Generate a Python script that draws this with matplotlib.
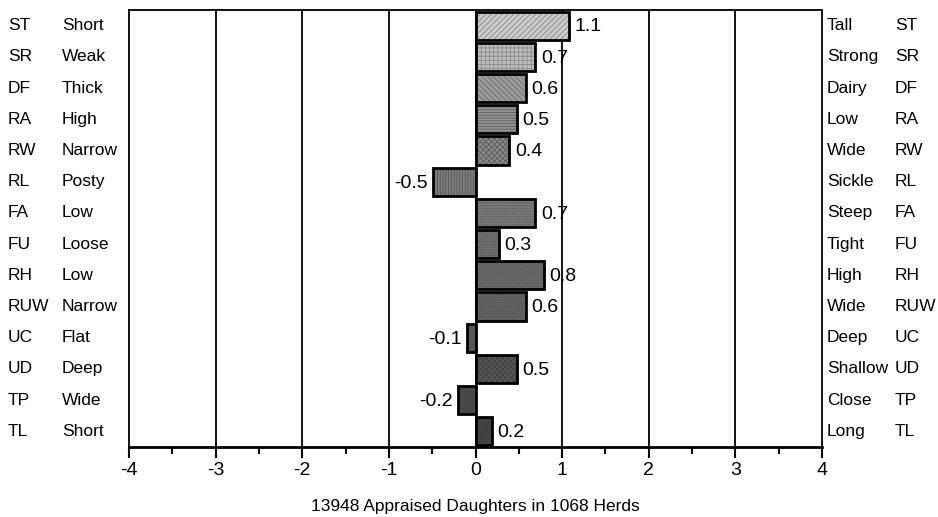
import matplotlib.pyplot as plt
from matplotlib.transforms import blended_transform_factory

# Trait codes, the two extremes and the bar values
codes = ["ST", "SR", "DF", "RA", "RW", "RL", "FA", "FU", "RH", "RUW", "UC", "UD", "TP", "TL"]
low_side = ["Short", "Weak", "Thick", "High", "Narrow", "Posty", "Low", "Loose", "Low",
            "Narrow", "Flat", "Deep", "Wide", "Short"]
high_side = ["Tall", "Strong", "Dairy", "Low", "Wide", "Sickle", "Steep", "Tight", "High",
             "Wide", "Deep", "Shallow", "Close", "Long"]
values = [1.08, 0.69, 0.58, 0.48, 0.39, -0.49, 0.69, 0.27, 0.79, 0.58, -0.10, 0.48, -0.20, 0.19]

fills = ["#cbcbcb", "#bcbcbc", "#9c9c9c", "#929292", "#8a8a8a", "#7e7e7e", "#787878",
         "#707070", "#686868", "#626262", "#5c5c5c", "#565656", "#4c4c4c", "#464646"]
hatch_cols = ["#8a8a8a", "#8c8c8c", "#6a6a6a", "#5e5e5e", "#5c5c5c", "#545454", "#5a5a5a",
              "#545454", "#555555", "#505050", "#4a4a4a", "#404040", "#3a3a3a", "#333333"]
hatches = ["//////", "++++", "\\\\\\\\\\\\", "------", "xxxxxx", "||||||", "......",
           "......", "......", "......", "......", "xxxxxx", "......", "......"]

plt.rcParams["font.family"] = ["Liberation Sans", "DejaVu Sans"]
plt.rcParams["axes.unicode_minus"] = False
plt.rcParams["hatch.linewidth"] = 0.6

fig = plt.figure(figsize=(9.38, 5.17), dpi=100)
ax = fig.add_axes([129 / 938, 1 - 447 / 517, (822 - 129) / 938, (447 - 10) / 517])

ypos = list(range(len(codes)))
for x in range(-3, 4):
    ax.axvline(x, color="black", lw=1.3, zorder=0)

# fill + hatch first, then the black outline on top
for y, v, fc, hc, h in zip(ypos, values, fills, hatch_cols, hatches):
    ax.barh(y, v, height=0.9, color=fc, edgecolor=hc, hatch=h, lw=0, zorder=2)
ax.barh(ypos, values, height=0.9, color="none", edgecolor="black", lw=2, zorder=3)

for y, v in zip(ypos, values):
    lab = f"{round(v, 1):.1f}"
    if v >= 0:
        ax.annotate(lab, (v, y), xytext=(4, -1), textcoords="offset points",
                    ha="left", va="center", fontsize=14, zorder=4)
    else:
        ax.annotate(lab, (v, y), xytext=(-4, -1), textcoords="offset points",
                    ha="right", va="center", fontsize=14, zorder=4)

ax.set_xlim(-4, 4)
ax.set_ylim(len(codes) - 0.5, -0.5)
ax.set_yticks([])
ax.set_xticks(range(-4, 5))
ax.set_xticks([x + 0.5 for x in range(-4, 4)], minor=True)
ax.tick_params(axis="x", which="major", length=8, width=1.5, labelsize=14, pad=3)
ax.tick_params(axis="x", which="minor", length=5, width=1.5)
for side in ["left", "right", "top"]:
    ax.spines[side].set_linewidth(1.3)
ax.spines["bottom"].set_linewidth(2)

tr = blended_transform_factory(fig.transFigure, ax.transData)
for y, c, lo, hi in zip(ypos, codes, low_side, high_side):
    fig.text(8 / 938, y, c, transform=tr, ha="left", va="center", fontsize=12.5)
    fig.text(62 / 938, y, lo, transform=tr, ha="left", va="center", fontsize=12.5)
    fig.text(827 / 938, y, hi, transform=tr, ha="left", va="center", fontsize=12.5)
    fig.text(895 / 938, y, c, transform=tr, ha="left", va="center", fontsize=12.5)

fig.text(475 / 938, 1 - 506 / 517, "13948 Appraised Daughters in 1068 Herds",
         ha="center", va="center", fontsize=12.5)

fig.savefig("out.png", dpi=100)
